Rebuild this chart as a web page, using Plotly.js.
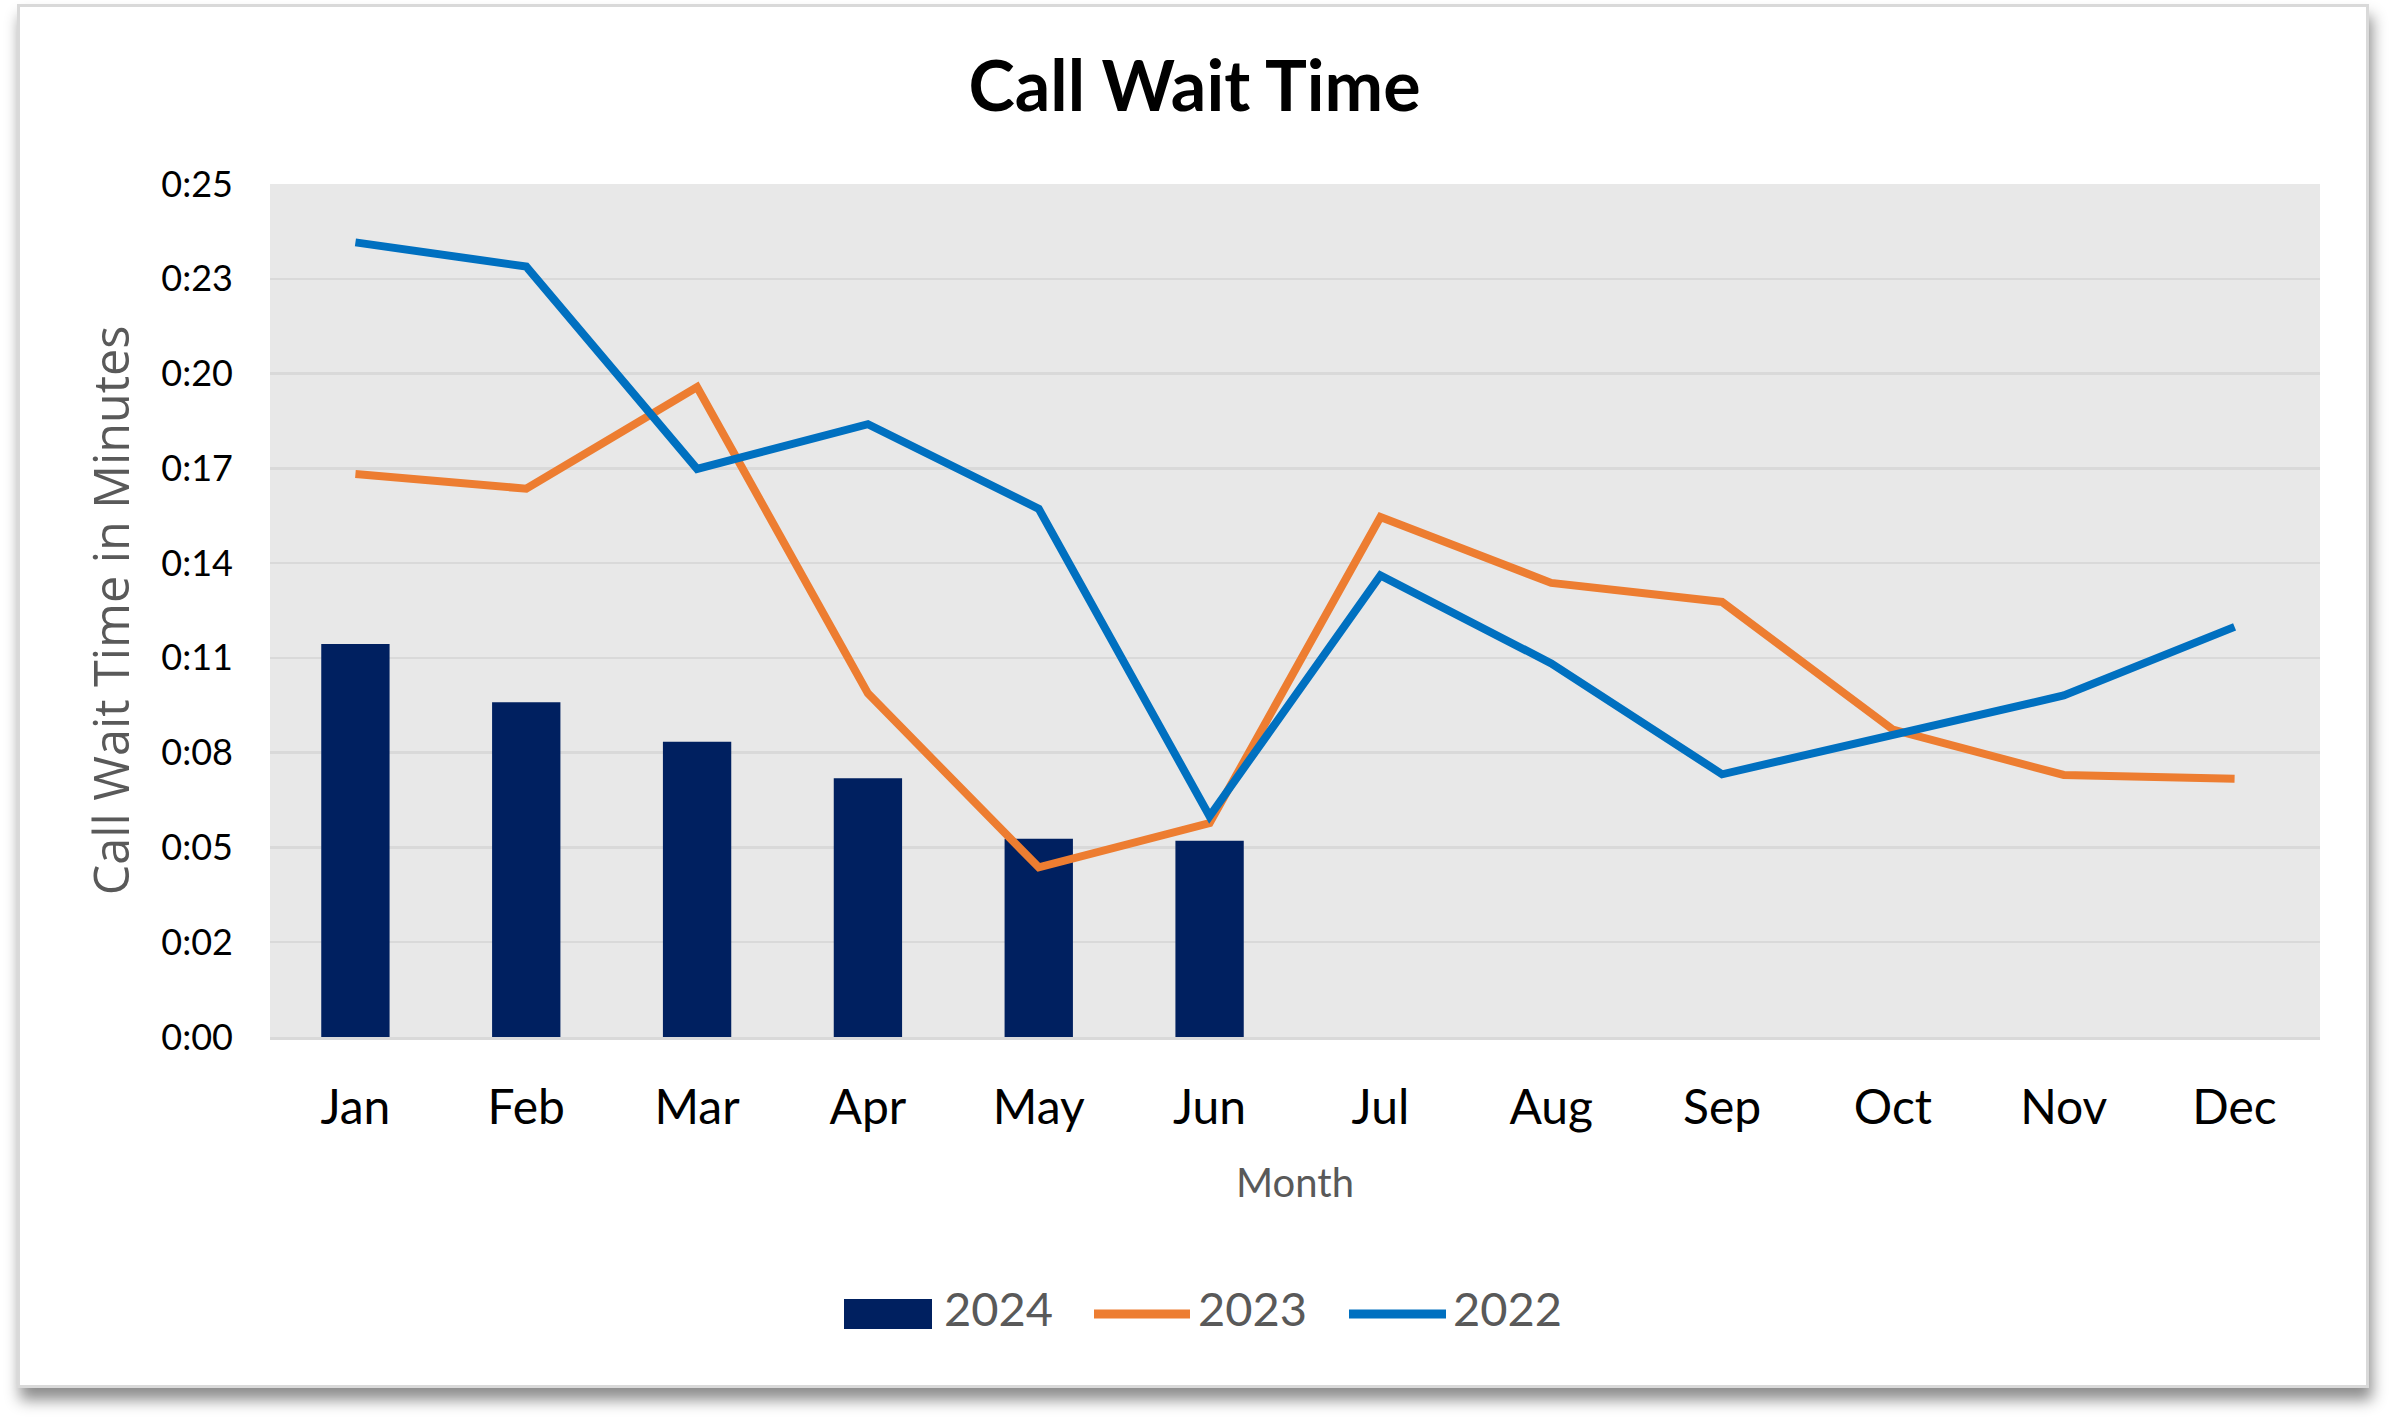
<!DOCTYPE html>
<html>
<head>
<meta charset="utf-8">
<script src="https://cdn.plot.ly/plotly-3.0.1.min.js"></script>
<style>
  html, body { margin: 0; padding: 0; background: #ffffff; }
  #wrap { position: relative; width: 2389px; height: 1421px; overflow: hidden; }
  #frame {
    position: absolute; left: 17px; top: 4px; width: 2346px; height: 1378px;
    border: 3px solid #d9d9d9; background: #ffffff;
    box-shadow: 3px 12px 14px rgba(0, 0, 0, 0.45);
  }
  #chart { position: absolute; left: 0; top: 0; }
</style>
</head>
<body>
<div id="wrap">
  <div id="frame"></div>
  <div id="chart"></div>
</div>
<script>
// wait times in minutes
const months = ["Jan", "Feb", "Mar", "Apr", "May", "Jun", "Jul", "Aug", "Sep", "Oct", "Nov", "Dec"];
const wait2024 = [11.52, 9.81, 8.65, 7.58, 5.81, 5.75];
const wait2023 = [16.50, 16.07, 19.05, 10.07, 4.97, 6.27, 15.24, 13.31, 12.75, 9.01, 7.68, 7.57];
const wait2022 = [23.29, 22.58, 16.65, 17.96, 15.48, 6.47, 13.53, 10.95, 7.70, 8.88, 10.01, 12.02];
const yTickLabels = ["0:00", "0:02", "0:05", "0:08", "0:11", "0:14", "0:17", "0:20", "0:23", "0:25"];
const seriesNames = ["2024", "2023", "2022"];
const seriesColors = ["#002060", "#ED7D31", "#0070C0"];

const yMax = 25;
const yTickVals = yTickLabels.map((_, i) => (i * yMax) / (yTickLabels.length - 1));

const gray = "#595959";

// plot box in page pixels, used to place the hand-made legend
const W = 2389, H = 1421;
const M = { l: 270, r: 69, t: 184, b: 384 };
const px = (x) => (x - M.l) / (W - M.l - M.r);
const py = (y) => (H - M.b - y) / (H - M.t - M.b);

// legend: symbol start, symbol end, text start (page x)
const legendItems = [
  { sym: "rect", x0: 844, x1: 932, tx: 942 },
  { sym: "line", x0: 1094, x1: 1190, tx: 1196 },
  { sym: "line", x0: 1349, x1: 1446, tx: 1451 },
];
const legendY = 1314;
const legendTextY = 1308;

const shapes = legendItems.map((it, i) =>
  it.sym === "rect"
    ? {
        type: "rect", xref: "paper", yref: "paper",
        x0: px(it.x0), x1: px(it.x1), y0: py(legendY + 15), y1: py(legendY - 15),
        fillcolor: seriesColors[i], line: { width: 0 },
      }
    : {
        type: "line", xref: "paper", yref: "paper",
        x0: px(it.x0), x1: px(it.x1), y0: py(legendY), y1: py(legendY),
        line: { color: seriesColors[i], width: 9 },
      }
);

const annotations = legendItems.map((it, i) => ({
  xref: "paper", yref: "paper",
  x: px(it.tx), y: py(legendTextY),
  xanchor: "left", yanchor: "middle",
  text: seriesNames[i],
  showarrow: false,
  font: { family: "Lato", size: 47, color: gray },
}));

Plotly.newPlot(
  "chart",
  [
    {
      type: "bar",
      name: seriesNames[0],
      x: months.slice(0, wait2024.length),
      y: wait2024,
      marker: { color: seriesColors[0] },
    },
    {
      type: "scatter",
      mode: "lines",
      name: seriesNames[1],
      x: months,
      y: wait2023,
      line: { color: seriesColors[1], width: 8 },
    },
    {
      type: "scatter",
      mode: "lines",
      name: seriesNames[2],
      x: months,
      y: wait2022,
      line: { color: seriesColors[2], width: 8 },
    },
  ],
  {
    width: W,
    height: H,
    margin: M,
    paper_bgcolor: "rgba(0,0,0,0)",
    plot_bgcolor: "#e8e8e8",
    bargap: 0.6,
    showlegend: false,
    shapes,
    annotations,
    title: {
      text: "<b>Call Wait Time</b>",
      font: { family: "Lato", size: 70, color: "#000000" },
      x: 0.5,
      xanchor: "center",
      xref: "container",
      y: 0.939,
      yanchor: "middle",
      yref: "container",
    },
    xaxis: {
      type: "category",
      categoryarray: months,
      range: [-0.5, months.length - 0.5],
      tickfont: { family: "Lato", size: 48, color: "#000000" },
      ticks: "",
      ticklabelstandoff: 26,
      showgrid: false,
      showline: true,
      linecolor: "#d9d9d9",
      linewidth: 3,
      fixedrange: true,
      title: {
        text: "Month",
        font: { family: "Lato", size: 40, color: gray },
        standoff: 37,
      },
    },
    yaxis: {
      range: [0, yMax],
      tickvals: yTickVals,
      ticktext: yTickLabels,
      tickfont: { family: "Lato", size: 36, color: "#000000" },
      ticks: "",
      ticklabelstandoff: 36,
      gridcolor: "#d9d9d9",
      gridwidth: 2.5,
      zeroline: false,
      showline: false,
      fixedrange: true,
      title: {
        text: "Call Wait Time in Minutes",
        font: { family: "Open Sans", size: 48.5, color: gray },
        standoff: 16,
      },
    },
  },
  { displayModeBar: false, staticPlot: true }
);
</script>
</body>
</html>
